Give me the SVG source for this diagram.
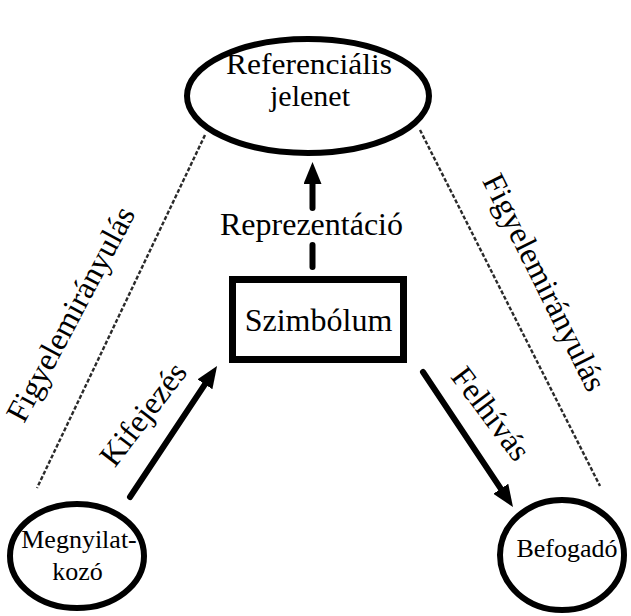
<svg xmlns="http://www.w3.org/2000/svg" width="631" height="616" viewBox="0 0 631 616">
  <style>
    .node { fill: #fff; stroke: #000; stroke-width: 6; }
    .lbl { font-family: "Liberation Serif", "Times New Roman", serif; fill: #000; text-anchor: middle; }
    .big { font-size: 32px; }
    .title { font-size: 30px; }
    .small { font-size: 26px; }
    .arrow { fill: none; stroke: #000; stroke-width: 6; stroke-linecap: round; }
    .attn { fill: none; stroke: #2a2a2a; stroke-width: 2.4; stroke-dasharray: 4 2; }
  </style>
  <defs>
    <marker id="head" markerWidth="22" markerHeight="18" refX="6" refY="9" orient="auto" markerUnits="userSpaceOnUse">
      <path d="M0,0 L22,9 L0,18 z" fill="#000"/>
    </marker>
  </defs>

  <rect width="631" height="616" fill="#fff"/>

  <!-- connectors -->
  <g id="connectors">
    <line class="attn" x1="205" y1="135" x2="37" y2="488"/>
    <line class="attn" x1="420" y1="130" x2="600" y2="486"/>
    <path class="arrow" d="M312.5,267 V245"/>
    <path class="arrow" d="M312.5,208 V178" marker-end="url(#head)"/>
    <path class="arrow" d="M130,497 L208.2,379.3" marker-end="url(#head)"/>
    <path class="arrow" d="M423,372 L504.1,493.7" marker-end="url(#head)"/>
  </g>

  <!-- connector labels -->
  <g id="labels">
    <text class="lbl big" x="311.5" y="235">Reprezentáció</text>
    <text class="lbl big" transform="translate(80,319) rotate(-62)">Figyelemirányulás</text>
    <text class="lbl big" transform="translate(535,287) rotate(63.5)">Figyelemirányulás</text>
    <text class="lbl big" transform="translate(151.5,420.5) rotate(-52.5)">Kifejezés</text>
    <text class="lbl big" transform="translate(482.5,420) rotate(53)">Felhívás</text>
  </g>

  <g id="referencialis-jelenet">
    <ellipse class="node" cx="308" cy="96" rx="121" ry="57"/>
    <text class="lbl title" x="309" y="74" textLength="166" lengthAdjust="spacingAndGlyphs">Referenciális</text>
    <text class="lbl title" x="310" y="106">jelenet</text>
  </g>

  <g id="szimbolum">
    <rect x="232.5" y="279.5" width="171" height="80" fill="#fff" stroke="#000" stroke-width="7"/>
    <text class="lbl big" x="318.5" y="331">Szimbólum</text>
  </g>

  <g id="megnyilatkozo">
    <ellipse class="node" cx="77" cy="556" rx="67" ry="52"/>
    <text class="lbl small" x="79" y="548">Megnyilat-</text>
    <text class="lbl small" x="77.5" y="580">kozó</text>
  </g>

  <g id="befogado">
    <ellipse class="node" cx="562" cy="555" rx="62" ry="55"/>
    <text class="lbl small" x="567" y="557">Befogadó</text>
  </g>
</svg>
